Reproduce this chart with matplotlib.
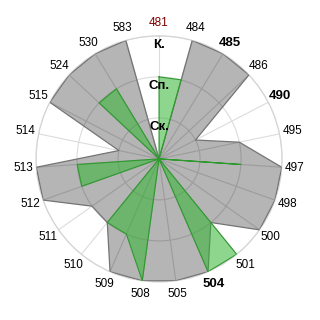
import matplotlib
matplotlib.use('Agg')
import matplotlib.pyplot as plt
import numpy as np

plt.rcParams['font.family'] = ['Liberation Sans', 'DejaVu Sans']

# Categories clockwise from the top
categories = ['481', '484', '485', '486', '490', '495', '497', '498', '500',
              '501', '504', '505', '508', '509', '510', '511', '512', '513',
              '514', '515', '524', '530', '583']
grey_values = [0, 3, 3, 3, 1, 2, 3, 3, 3, 2, 3, 3, 3, 3, 2, 2, 3, 3, 1, 3, 3, 3, 3]
green_values = [2, 2, 0, 0, 0, 0, 2, 0, 0, 3, 3, 0, 3, 2, 2, 0, 2, 2, 0, 0, 2, 2, 0]
ring_labels = ['Ск.', 'Сп.', 'К.']
bold_labels = ['485', '490', '504']
red_labels = ['481']

n = len(categories)
angles = np.arange(n) * 2 * np.pi / n
theta = np.append(angles, angles[0])

fig = plt.figure(figsize=(3.2, 3.2), dpi=100)
ax = fig.add_axes([0.1125, 0.119, 0.769, 0.769], polar=True)
ax.set_theta_zero_location('N')
ax.set_theta_direction(-1)
ax.set_ylim(0, 3)

# Grid
ax.set_xticks(angles)
ax.set_xticklabels([])
ax.set_yticks([1, 2, 3])
ax.set_yticklabels([])
ax.grid(True, color='#dcdcdc', linewidth=0.8)
ax.spines['polar'].set_color('#d4d4d4')
ax.spines['polar'].set_linewidth(0.9)
ax.tick_params(length=0)

# Grey series
g = np.append(grey_values, grey_values[0])
ax.fill(theta, g, color='black', alpha=0.29, linewidth=0, zorder=2)
ax.plot(theta, g, color='#747474', linewidth=0.9, zorder=3)

# Green series
gr = np.append(green_values, green_values[0])
ax.fill(theta, gr, color='#32b432', alpha=0.55, linewidth=0, zorder=4)
ax.plot(theta, gr, color='#2e9a2e', linewidth=0.8, zorder=5)

# Category labels
for ang, cat in zip(angles, categories):
    color = '#800000' if cat in red_labels else 'black'
    weight = 'bold' if cat in bold_labels else 'normal'
    size = 9.5 if cat in bold_labels else 8.5
    ax.text(ang, 3.32, cat, ha='center', va='center', fontsize=size,
            color=color, fontweight=weight, clip_on=False, zorder=6)

# Ring labels
for r, lab in zip([0.77, 1.77, 2.78], ring_labels):
    ax.text(0, r, lab, ha='center', va='center', fontsize=9.5,
            fontweight='bold', color='black', zorder=7)

plt.savefig('out.png', dpi=100)
plt.close()
